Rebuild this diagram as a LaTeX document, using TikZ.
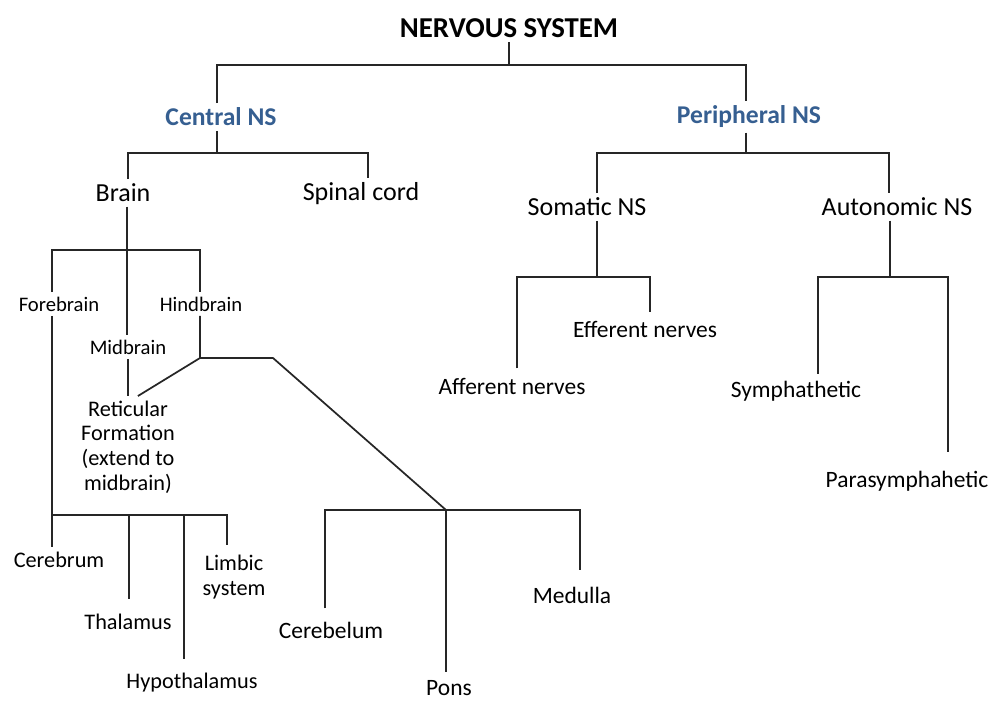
\documentclass[tikz,border=0pt]{standalone}
\usepackage{fontspec}
\setmainfont{Carlito}
\definecolor{headblue}{HTML}{365F91}
\tikzset{
  ln/.style={line width=1.3pt, black!85},
  title/.style={font=\fontsize{21.6}{25}\selectfont\bfseries},
  head/.style={font=\fontsize{19.2}{23}\selectfont\bfseries, text=headblue},
  lvl/.style={font=\fontsize{19.5}{23}\selectfont},
  leaf/.style={font=\fontsize{17.6}{21}\selectfont},
  sub/.style={font=\fontsize{16.7}{18.5}\selectfont, align=center},
  part/.style={font=\fontsize{15.5}{18}\selectfont},
}

\begin{document}
\begin{tikzpicture}[x=0.75pt,y=-0.75pt]
\useasboundingbox (0,0) rectangle (994,702);
\node[title] (ns) at (509,28) {NERVOUS SYSTEM};
\node[head] (cns) at (221,117) {Central NS};
\node[head] (pns) at (749,117) {Peripheral NS};
\node[lvl] (brain) at (123,193) {Brain};
\node[lvl] (spinal) at (361,194) {Spinal cord};
\node[lvl] (somatic) at (587,207) {Somatic NS};
\node[lvl] (autonomic) at (897,207) {Autonomic NS};
\node[part] (fore) at (59,304) {Forebrain};
\node[part] (hind) at (201,304) {Hindbrain};
\node[part] (mid) at (128,347) {Midbrain};
\node[sub] (retic) at (128,447) {Reticular\\Formation\\(extend to\\midbrain)};
\node[sub] (cerebrum) at (59,560) {Cerebrum};
\node[sub] (thalamus) at (128,622) {Thalamus};
\node[sub] (hypo) at (192,683) {Hypothalamus};
\node[sub] (limbic) at (234,577) {Limbic\\system};
\node[leaf] (cerebelum) at (331,630) {Cerebelum};
\node[leaf] (pons) at (449,688) {Pons};
\node[leaf] (medulla) at (572,595) {Medulla};
\node[leaf] (efferent) at (645,329) {Efferent nerves};
\node[leaf] (afferent) at (512,386) {Afferent nerves};
\node[leaf] (symp) at (796,391) {Symphathetic};
\node[leaf] (parasymp) at (907,481) {Parasymphahetic};

\coordinate (j0) at (509,65);
\coordinate (c0) at (217,65);
\coordinate (p0) at (746,65);
\draw[ln] (ns) -- (j0);
\draw[ln] (cns.north -| c0) |- (p0) -- (pns.north -| p0);

\coordinate (c1) at (217,153);
\coordinate (b1) at (128,153);
\coordinate (s1) at (368,153);
\draw[ln] (cns.south -| c1) -- (c1);
\draw[ln] (brain.north -| b1) |- (s1) -- (spinal.north -| s1);

\coordinate (br) at (127,250);
\coordinate (f1) at (52,250);
\coordinate (h1) at (200,250);
\draw[ln] (brain.south -| br) -- (mid.north -| br);
\draw[ln] (fore.north -| f1) |- (h1) -- (hind.north -| h1);
\draw[ln] (mid) -- (retic);

\coordinate (f2) at (52,515);
\coordinate (t2) at (129,515);
\coordinate (y2) at (184,515);
\coordinate (l2) at (227,515);
\draw[ln, shorten >=4pt] (fore.south -| f2) -- (f2) -- (l2) -- (limbic.north -| l2);
\draw[ln] (f2) -- (cerebrum.north -| f2);
\draw[ln, shorten >=7.5pt] (t2) -- (thalamus.north -| t2);
\draw[ln, shorten >=7.5pt] (y2) -- (hypo.north -| y2);

\coordinate (h2) at (200,358);
\coordinate (h3) at (273,358);
\coordinate (p2) at (446,510);
\draw[ln] (hind.south -| h2) -- (h2) -- (retic.79);
\draw[ln] (h2) -- (h3) -- (p2);
\coordinate (ce2) at (325,510);
\coordinate (me2) at (580,510);
\draw[ln, shorten <=6.5pt, shorten >=9pt] (cerebelum.north -| ce2) |- (me2) -- (medulla.north -| me2);
\draw[ln, shorten >=3pt] (p2) -- (pons.north -| p2);

\coordinate (p1) at (746,153);
\coordinate (so1) at (597,153);
\coordinate (au1) at (889,153);
\draw[ln] (pns.south -| p1) -- (p1);
\draw[ln] (somatic.north -| so1) |- (au1) -- (autonomic.north -| au1);

\coordinate (so2) at (597,277);
\coordinate (af2) at (517,277);
\coordinate (ef2) at (650,277);
\draw[ln] (somatic.south -| so2) -- (so2);
\draw[ln, shorten <=3.5pt, shorten >=3pt] (afferent.north -| af2) |- (ef2) -- (efferent.north -| ef2);

\coordinate (au2) at (890,277);
\coordinate (sy2) at (818,277);
\coordinate (pa2) at (948,277);
\draw[ln] (autonomic.south -| au2) -- (au2);
\draw[ln, shorten <=2pt, shorten >=11pt] (symp.north -| sy2) |- (pa2) -- (parasymp.north -| pa2);
\end{tikzpicture}
\end{document}
